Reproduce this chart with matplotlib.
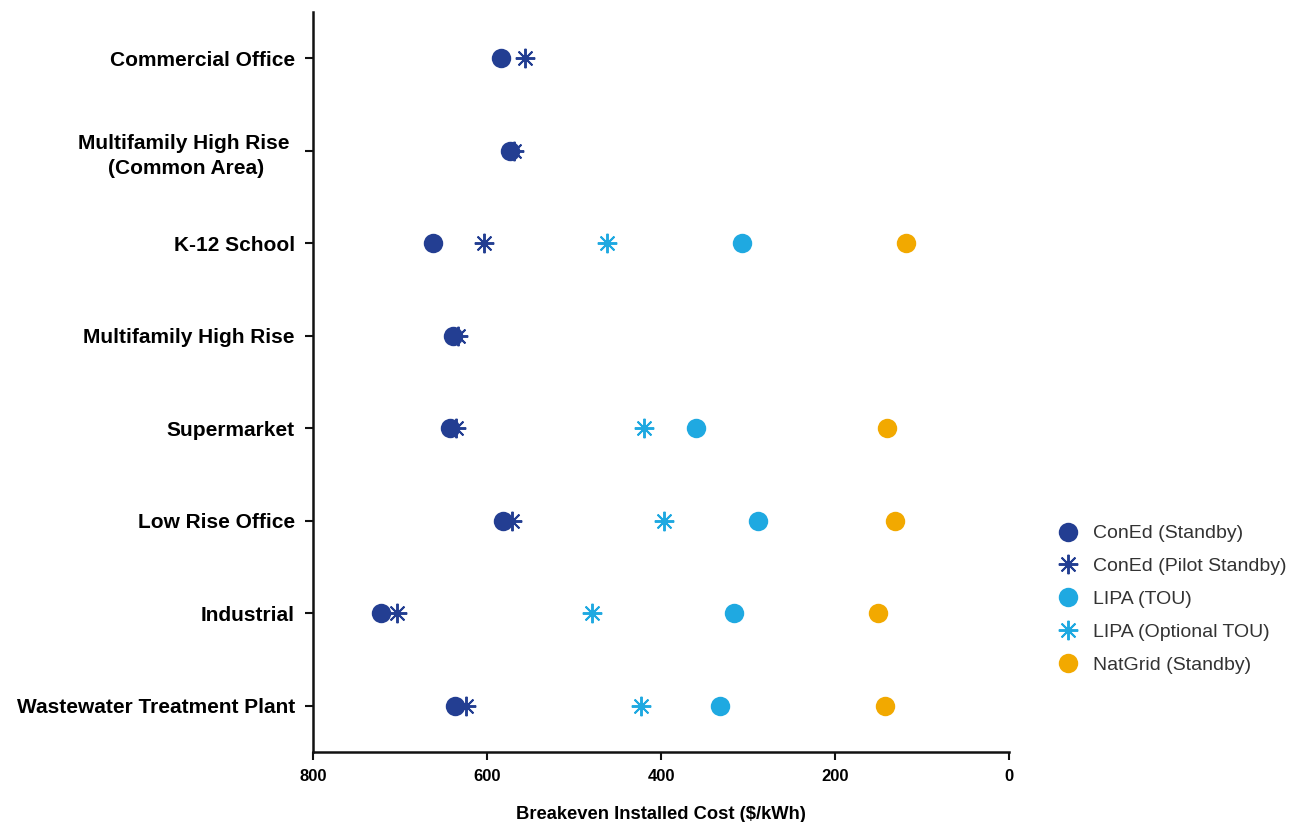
import matplotlib
matplotlib.use("Agg")
import matplotlib.pyplot as plt
from matplotlib.lines import Line2D

plt.rcParams['font.family'] = ['Liberation Sans', 'DejaVu Sans']

categories = ["Commercial Office", "Multifamily High Rise \n(Common Area)", "K-12 School",
              "Multifamily High Rise", "Supermarket", "Low Rise Office", "Industrial",
              "Wastewater Treatment Plant"]

coned_standby = [584, 573, 662, 639, 642, 582, 722, 637]
coned_pilot = [556, 569, 603, 633, 636, 571, 703, 624]
lipa_tou = [None, None, 307, None, 360, 289, 316, 332]
lipa_opt_tou = [None, None, 462, None, 419, 397, 479, 423]
natgrid_standby = [None, None, 118, None, 140, 131, 151, 142]

series_names = ["ConEd (Standby)", "ConEd (Pilot Standby)", "LIPA (TOU)",
                "LIPA (Optional TOU)", "NatGrid (Standby)"]
colors = ["#233e92", "#233e92", "#1fa9e1", "#1fa9e1", "#f2a900"]
markers = ["o", (8, 2, 0), "o", (8, 2, 0), "o"]
all_series = [coned_standby, coned_pilot, lipa_tou, lipa_opt_tou, natgrid_standby]

fig = plt.figure(figsize=(12.89, 8.22), dpi=100)
ax = fig.add_axes([313/1289, 70/822, (1009-313)/1289, (752-12)/822])

for i, (vals, name, c, m) in enumerate(zip(all_series, series_names, colors, markers)):
    ys = [j for j, v in enumerate(vals) if v is not None]
    xs = [v for v in vals if v is not None]
    if m == "o":
        ax.plot(xs, ys, linestyle="none", marker="o", markersize=14, color=c,
                markeredgewidth=0, zorder=4, label=name)
    else:
        ax.plot(xs, ys, linestyle="none", marker=m, markersize=14, color=c,
                markeredgewidth=1.4, zorder=3, label=name)

ax.set_xlim(800, 0)
ax.set_ylim(len(categories) - 0.5, -0.5)
ax.set_yticks(range(len(categories)))
ax.set_yticklabels(categories, fontsize=15, fontweight="bold", multialignment="center",
                   linespacing=1.4)
ax.set_xticks([800, 600, 400, 200, 0])
ax.set_xticklabels(["800", "600", "400", "200", "0"], fontsize=12, fontweight="bold")
ax.set_xlabel("Breakeven Installed Cost ($/kWh)", fontsize=13.2, fontweight="bold", labelpad=16)

for s in ["top", "right"]:
    ax.spines[s].set_visible(False)
for s in ["left", "bottom"]:
    ax.spines[s].set_linewidth(1.8)
    ax.spines[s].set_color("#111111")
ax.tick_params(axis="both", length=6, width=1.5, color="#111111")
ax.tick_params(axis="y", pad=7)
ax.tick_params(axis="x", pad=6)

handles = []
for name, c, m in zip(series_names, colors, markers):
    if m == "o":
        handles.append(Line2D([], [], linestyle="none", marker="o", markersize=14,
                              color=c, markeredgewidth=0, label=name))
    else:
        handles.append(Line2D([], [], linestyle="none", marker=m, markersize=14,
                              color=c, markeredgewidth=1.4, label=name))
leg = fig.legend(handles=handles, loc="upper left", bbox_to_anchor=(1047/1289, 1 - 517/822),
                 frameon=False, fontsize=14, handletextpad=0.55, labelspacing=0.78,
                 handlelength=1.4, borderaxespad=0)
for t in leg.get_texts():
    t.set_color("#333333")

fig.savefig("out.png", dpi=100)
